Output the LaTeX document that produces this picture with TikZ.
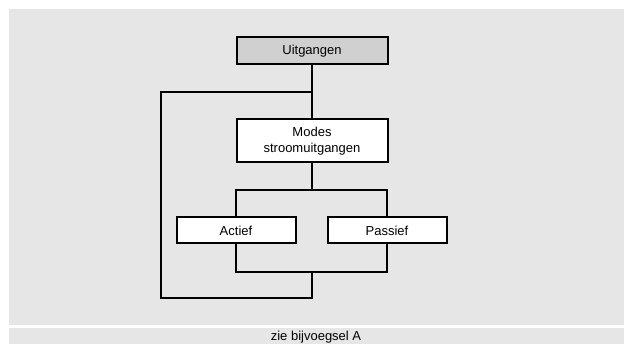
\documentclass[tikz,border=0pt]{standalone}
\usepackage{fontspec}
\setmainfont{Liberation Sans}
\definecolor{panelgray}{RGB}{230,230,230}
\definecolor{headgray}{RGB}{208,208,208}
\begin{document}
\begin{tikzpicture}[x=1pt,y=-1pt,
  box/.style={draw=black,line width=2pt,fill=white,inner sep=0pt,align=center,
    font=\fontsize{13}{15.5}\selectfont},
  wire/.style={draw=black,line width=2pt,line cap=rect}]
\useasboundingbox (0,0) rectangle (625,344);
\fill[panelgray] (9,9.5) rectangle (624,325);
\fill[panelgray] (9,328) rectangle (624,344);
\node[font=\fontsize{13}{15}\selectfont] (note) at (316,337) {zie bijvoegsel A};

\node[box,fill=headgray,minimum width=151pt,minimum height=27pt] (U) at (312,51) {Uitgangen};
\node[box,minimum width=151pt,minimum height=43pt] (M) at (312,141) {Modes\\stroomuitgangen};
\node[box,minimum width=119pt,minimum height=26pt] (A) at (236,230.5) {Actief};
\node[box,minimum width=119pt,minimum height=26pt] (P) at (387,230.5) {Passief};

\coordinate (j1) at (312,92);
\coordinate (l1) at (161,92);
\coordinate (l2) at (161,298);
\coordinate (j4) at (312,298);
\coordinate (j2) at (312,190);
\coordinate (b1) at (236,190);
\coordinate (b2) at (387,190);
\coordinate (j3) at (312,272);
\coordinate (c1) at (236,272);
\coordinate (c2) at (387,272);

\draw[wire] (U.south) -- (M.north);
\draw[wire] (j1) -- (l1) -- (l2) -- (j4) -- (j3);
\draw[wire] (M.south) -- (j2);
\draw[wire] (A.north) -- (b1) -- (b2) -- (P.north);
\draw[wire] (A.south) -- (c1) -- (c2) -- (P.south);
\end{tikzpicture}
\end{document}
